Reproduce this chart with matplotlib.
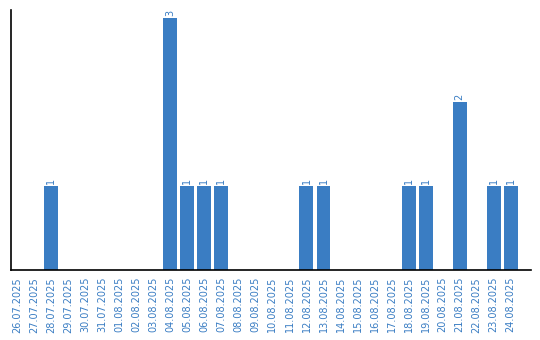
import matplotlib
matplotlib.use("Agg")
import matplotlib.pyplot as plt

dates = [
    "26.07.2025", "27.07.2025", "28.07.2025", "29.07.2025", "30.07.2025",
    "31.07.2025", "01.08.2025", "02.08.2025", "03.08.2025", "04.08.2025",
    "05.08.2025", "06.08.2025", "07.08.2025", "08.08.2025", "09.08.2025",
    "10.08.2025", "11.08.2025", "12.08.2025", "13.08.2025", "14.08.2025",
    "15.08.2025", "16.08.2025", "17.08.2025", "18.08.2025", "19.08.2025",
    "20.08.2025", "21.08.2025", "22.08.2025", "23.08.2025", "24.08.2025",
]
counts = [0, 0, 1, 0, 0, 0, 0, 0, 0, 3,
          1, 1, 1, 0, 0, 0, 0, 1, 1, 0,
          0, 0, 0, 1, 1, 0, 2, 0, 1, 1]

BLUE = "#3a7dc3"

fig = plt.figure(figsize=(5.4, 3.4), dpi=100)
ax = fig.add_axes([11 / 540, 70 / 340, 520 / 540, 260 / 340])

x = list(range(len(dates)))
ax.bar(x, counts, width=0.82, color=BLUE)
for xi, c in zip(x, counts):
    if c > 0:
        ax.text(xi, c + 0.03, str(c), rotation=90, ha="center", va="bottom",
                fontsize=7, color=BLUE)

ax.set_xlim(-0.37, 30.2)
ax.set_ylim(0, 3.1)
ax.set_xticks(x)
ax.set_xticklabels(dates, rotation=90, fontsize=7, color=BLUE)
ax.tick_params(axis="x", length=0, pad=5)
ax.set_yticks([])
ax.spines["top"].set_visible(False)
ax.spines["right"].set_visible(False)
ax.spines["left"].set_linewidth(1.2)
ax.spines["bottom"].set_linewidth(1.2)

fig.savefig("out.png", dpi=100)
